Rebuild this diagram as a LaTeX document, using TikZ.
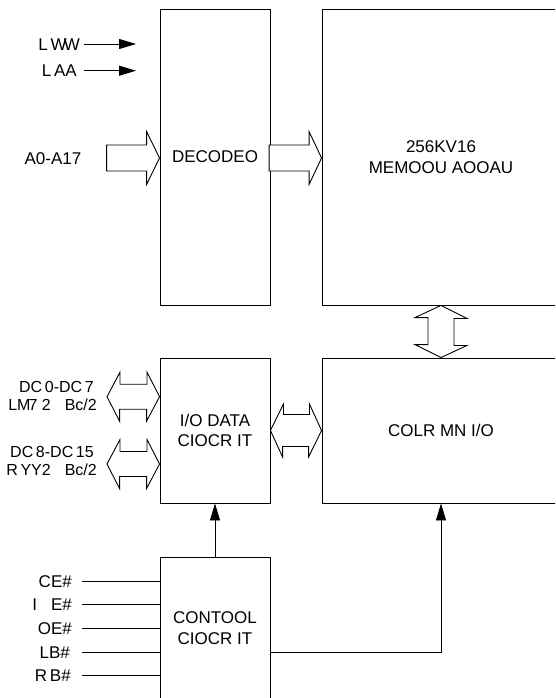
\documentclass[tikz,border=0pt]{standalone}
\usepackage{fontspec}
\setmainfont{Liberation Sans}
\usetikzlibrary{arrows.meta,calc}
\newcommand\dgf{\fontsize{17}{20.5}\selectfont}
\newcommand\dgs{\fontsize{16}{18}\selectfont}
\begin{document}
\begin{tikzpicture}[x=1pt,y=-1pt,
 ln/.style={line width=0.9pt},
 box/.style={draw,line width=0.9pt,inner sep=0pt,align=center,font=\dgf},
 fat/.style={draw,line width=0.9pt,line join=miter,fill=white},
 lbl/.style={inner sep=0pt,font=\dgf,text height=12.2pt,text depth=0pt},
 slbl/.style={inner sep=0pt,font=\dgs,text height=11.5pt,text depth=0pt},
 tip/.style={-{Triangle[length=17pt,width=10pt]}}]
\useasboundingbox (0,0) rectangle (555,698);
\clip (0,0) rectangle (555,698);
% blocks
\node[box,minimum width=110pt,minimum height=296pt] (dec) at (215,157) {DECODEO};
\node[box,minimum width=238pt,minimum height=296pt] (mem) at (441,157) {256KV16\\MEMOOU AOOAU};
\node[box,minimum width=110pt,minimum height=145pt] (iod) at (215,430.5) {I/O DATA\\CIOCR IT};
\node[box,minimum width=238pt,minimum height=145pt] (col) at (441,430.5) {COLR MN I/O};
\node[box,minimum width=110pt,minimum height=142pt] (ctl) at (215,628) {CONTOOL\\CIOCR IT};
% top inputs
\node[lbl,anchor=east] (lww) at (80,44) {L\,W\kern-3pt W};
\node[lbl,anchor=east] (laa) at (77,70.7) {L\,AA};
\coordinate (lx) at (84,0);
\coordinate (tx) at (136,0);
\draw[ln,tip] (lx |- lww.east) -- (tx |- lww.east);
\draw[ln,tip] (lx |- laa.east) -- (tx |- laa.east);
% address bus
\node[lbl] (a0) at (53,158) {A0-A17};
\draw[fat] (dec.west |- a0.center) -- ++(-13,-26.5) -- ++(0,13.5) -- ++(-40,0) -- ++(0,26) -- ++(40,0) -- ++(0,13.5) -- cycle;
\draw[fat] (mem.west |- a0.center) -- ++(-12.5,-26.5) -- ++(0,13.5) -- ++(-40,0) -- ++(0,26) -- ++(40,0) -- ++(0,13.5) -- cycle;
% memory <-> column
\draw[fat] (mem.south) -- ++(26,13) -- ++(-13,0) -- ++(0,27) -- ++(13,0) -- (col.north) -- ++(-26,-13) -- ++(13,0) -- ++(0,-27) -- ++(-13,0) -- cycle;
% io data <-> column
\draw[fat] (iod.east) -- ++(13,-26.5) -- ++(0,10.5) -- ++(26,0) -- ++(0,-10.5) -- (col.west) -- ++(-13,26.5) -- ++(0,-10.5) -- ++(-26,0) -- ++(0,10.5) -- cycle;
% data bus labels
\node[slbl,anchor=east] (dq0) at (94,387) {DC\,0-DC\,7};
\node[slbl,anchor=east] (lb) at (97,404.5) {LM\kern-2pt7 2\hspace{14pt}Bc/2};
\node[slbl,anchor=east] (dq8) at (94,452) {DC\,8-DC\,15};
\node[slbl,anchor=east] (ub) at (97,469.5) {R\,YY2\hspace{14pt}Bc/2};
\coordinate (q1) at (107,396.7);
\coordinate (q2) at (107,464);
\draw[fat] (q1) -- ++(13,-24.5) -- ++(0,12) -- ++(27,0) -- ++(0,-12) -- (iod.west |- q1) -- ++(-13,24.5) -- ++(0,-12) -- ++(-27,0) -- ++(0,12) -- cycle;
\draw[fat] (q2) -- ++(13,-24.5) -- ++(0,12) -- ++(27,0) -- ++(0,-12) -- (iod.west |- q2) -- ++(-13,24.5) -- ++(0,-12) -- ++(-27,0) -- ++(0,12) -- cycle;
% control inputs
\node[lbl,anchor=east] (ce) at (72,581) {CE\#};
\node[lbl,anchor=east] (we) at (72,604.7) {I\hspace{14pt}E\#};
\node[lbl,anchor=east] (oe) at (72,628) {OE\#};
\node[lbl,anchor=east] (lbs) at (70,652) {LB\#};
\node[lbl,anchor=east] (ubs) at (71,675.7) {R\,B\#};
\coordinate (sx) at (82,0);
\foreach \n in {ce,we,oe,lbs,ubs} \draw[ln] (sx |- \n.east) -- (ctl.west |- \n.east);
% control outputs
\draw[ln,tip] (ctl.north) -- (iod.south);
\draw[ln,tip] ($(ctl.east)+(0,24)$) -| (col.south);
\end{tikzpicture}
\end{document}
